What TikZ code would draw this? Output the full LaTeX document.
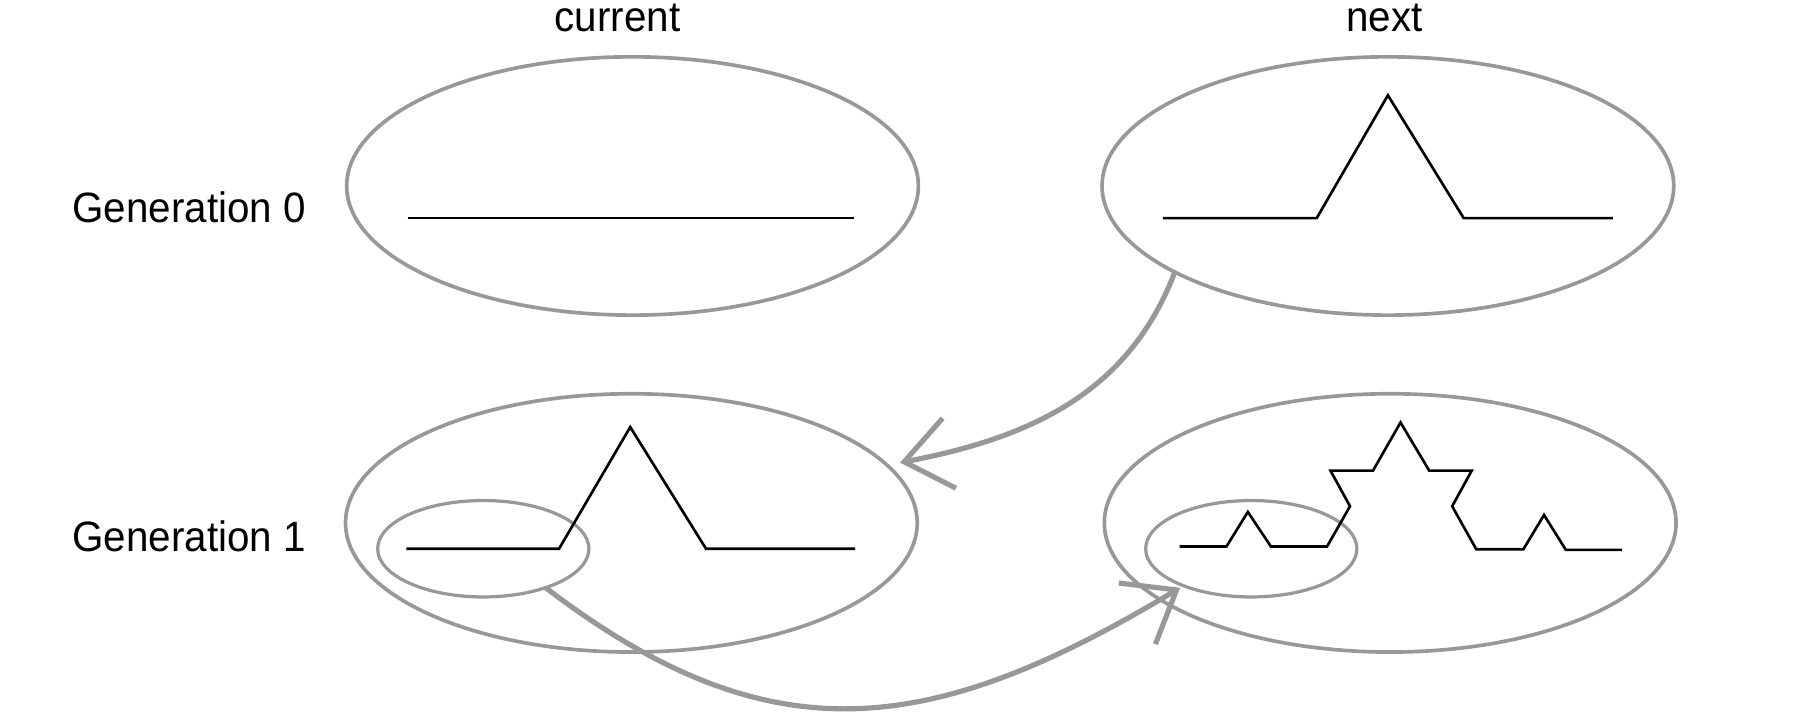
\documentclass[tikz,border=0pt]{standalone}
\usepackage{fontspec}
\newfontfamily\lblfont{Liberation Sans}[FakeStretch=0.95]
\usetikzlibrary{shapes.geometric,arrows.meta}
\definecolor{pencil}{RGB}{152,152,155}
\begin{document}
\begin{tikzpicture}[x=1pt,y=-1pt,
  lbl/.style={font=\lblfont\fontsize{37}{44}\selectfont, inner sep=0pt, text=black},
  bigell/.style={ellipse, draw=pencil, line width=3.2pt, inner sep=0pt, outer sep=0pt, minimum width=498pt, minimum height=225pt},
  smallell/.style={ellipse, draw=pencil, line width=2.8pt, inner sep=0pt, outer sep=0pt, minimum width=184pt, minimum height=84pt},
  koch/.style={draw=black, line width=2.3pt, line join=miter},
  conn/.style={draw=pencil, line width=4.5pt, -{Straight Barb[length=40pt,width=62pt]}}
]
\useasboundingbox (0,0) rectangle (1568,622);

% labels
\node[lbl, anchor=base] (cur) at (538,27.5) {current};
\node[lbl, anchor=base] (nxt) at (1206,27.5) {next};
\node[lbl, anchor=base west] (g0) at (63,194) {Generation 0};
\node[lbl, anchor=base west] (g1) at (63,480.5) {Generation 1};

% ellipses
\node[bigell] (e00) at (551,162) {};
\node[bigell] (e01) at (1209,162) {};
\node[bigell] (e10) at (550,455.5) {};
\node[bigell] (e11) at (1211,455.5) {};
\node[smallell] (s10) at (421,478) {};
\node[smallell] (s11) at (1090,478) {};

% curves
\draw[koch] (355,190) -- (744,190);
\draw[koch] (1013,190) -- (1147,190) -- (1209,83) -- (1275,190) -- (1405,190);
\draw[koch] (354,478) -- (487,478) -- (549,372) -- (615,478) -- (745,478);
\draw[koch] (1027.5,476) -- (1068.4,476) -- (1087,446) -- (1107,476) -- (1156,476)
  -- (1176,441) -- (1159,410) -- (1196,410) -- (1220,368) -- (1245,410) -- (1282,410)
  -- (1265,441) -- (1286,478.5) -- (1327,478.5) -- (1345,448.6) -- (1364,479) -- (1413,479);

% connectors
\coordinate (t1) at (784,403);
\coordinate (t2) at (1028,512);
\draw[conn] (e01.202) .. controls (982.7,343.5) and (896,381.6) .. (t1);
\draw[conn] (s10.-32) .. controls (672,662) and (811.5,642) .. (t2);
\end{tikzpicture}
\end{document}
